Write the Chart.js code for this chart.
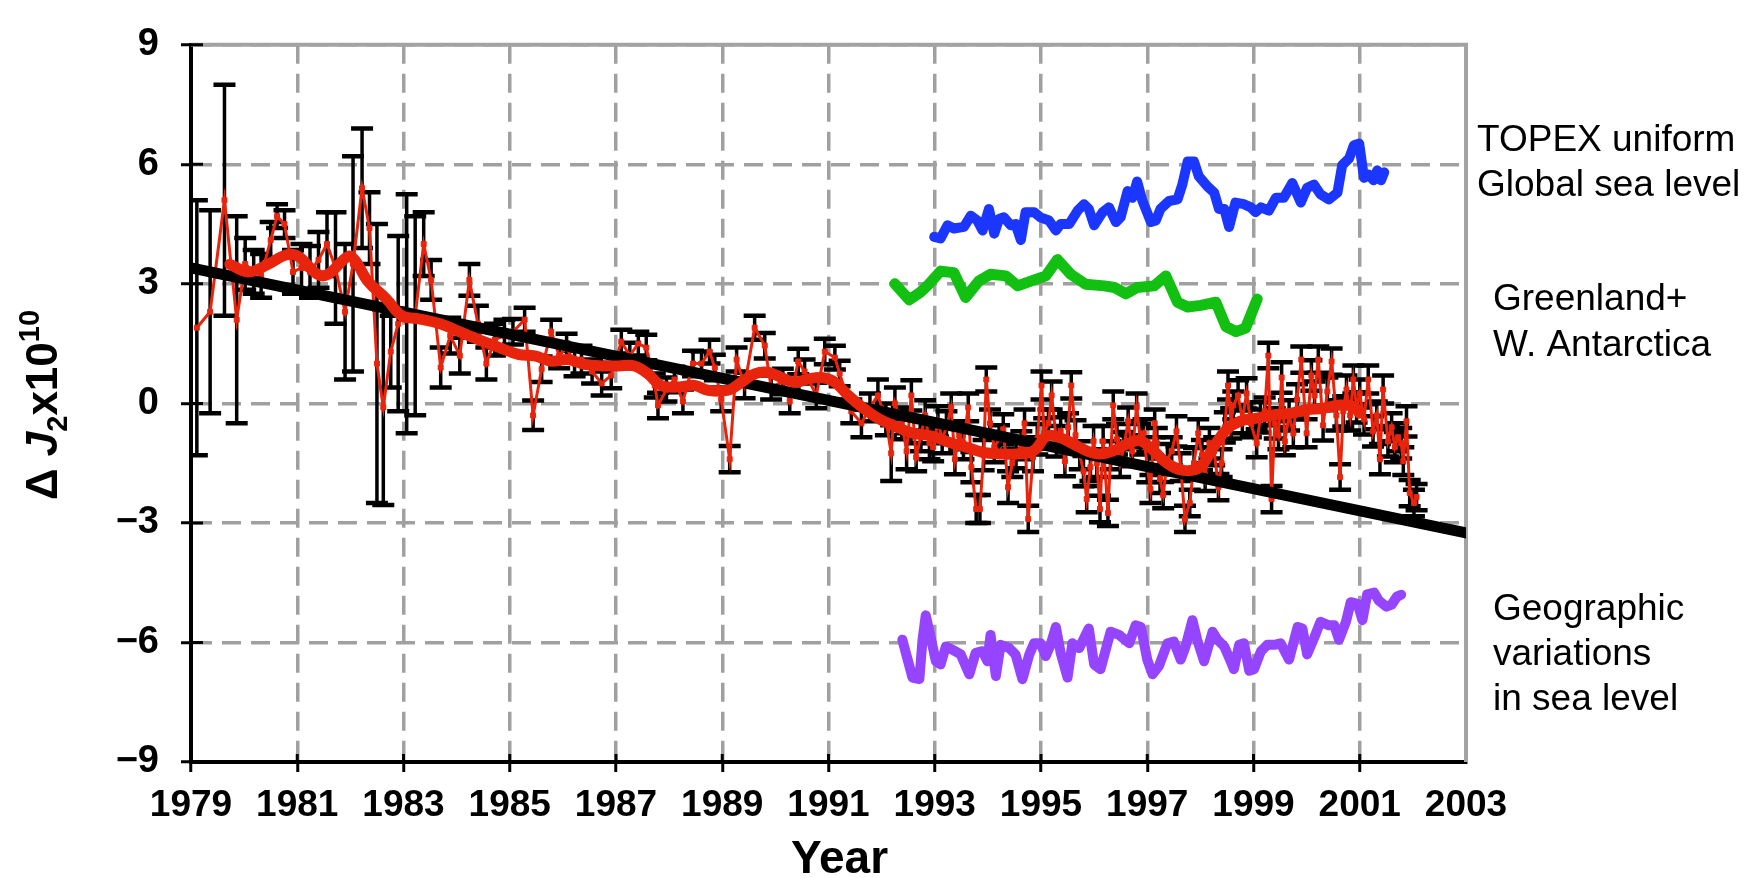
<!DOCTYPE html>
<html>
<head>
<meta charset="utf-8">
<script src="https://cdn.jsdelivr.net/npm/chart.js@4.4.0/dist/chart.umd.min.js"></script>
<style>
  html, body { margin: 0; padding: 0; background: #fff; }
  canvas { display: block; }
</style>
</head>
<body>
<canvas id="grafico" width="1764" height="878"></canvas>
<script>
const FONTE = "'Liberation Sans', Arial, Helvetica, sans-serif";

const anosTicks = [1979, 1981, 1983, 1985, 1987, 1989, 1991, 1993, 1995, 1997, 1999, 2001, 2003];
const valoresTicks = [-9, -6, -3, 0, 3, 6, 9];

// observacoes de J2 (pontos vermelhos com barras de erro)
const obsAnos = [
    1979.11, 1979.36, 1979.63, 1979.86, 1980.02, 1980.18, 1980.32, 1980.50, 1980.62, 1980.76, 1980.92,
    1981.08, 1981.24, 1981.40, 1981.56, 1981.72, 1981.90, 1982.05, 1982.22, 1982.36, 1982.50, 1982.62,
    1982.76, 1982.90, 1983.06, 1983.22, 1983.38, 1983.52, 1983.70, 1983.88, 1984.06, 1984.24, 1984.40,
    1984.56, 1984.72, 1984.90,
    1985.06, 1985.28, 1985.44, 1985.60, 1985.78, 1985.93,
    1986.07, 1986.22, 1986.35, 1986.55, 1986.73, 1986.91,
    1987.10, 1987.26, 1987.42, 1987.57, 1987.73, 1987.79, 1987.95,
    1988.10, 1988.26, 1988.45, 1988.61, 1988.76, 1988.86, 1988.98,
    1989.14, 1989.27, 1989.42, 1989.61, 1989.80, 1989.92,
    1990.14, 1990.27, 1990.43, 1990.55, 1990.77, 1990.93,
    1991.12, 1991.21, 1991.43, 1991.62, 1991.78, 1991.93,
    1992.08, 1992.18, 1992.25, 1992.38, 1992.47, 1992.56, 1992.65, 1992.74, 1992.82, 1992.90, 1992.97,
    1993.06, 1993.14, 1993.22, 1993.31, 1993.38, 1993.46, 1993.54, 1993.63, 1993.69, 1993.78, 1993.85, 1993.92, 1993.97,
    1994.04, 1994.12, 1994.21, 1994.29, 1994.38, 1994.46, 1994.53, 1994.63, 1994.69, 1994.76, 1994.85, 1994.93,
    1995.01, 1995.06, 1995.14, 1995.20, 1995.29, 1995.37, 1995.45, 1995.51, 1995.57, 1995.65, 1995.73, 1995.80, 1995.86, 1995.93, 1995.99,
    1996.05, 1996.11, 1996.17, 1996.26, 1996.31, 1996.36, 1996.43, 1996.49, 1996.56, 1996.64, 1996.72, 1996.80, 1996.87, 1996.93,
    1997.00, 1997.06, 1997.14, 1997.18, 1997.24, 1997.30, 1997.38, 1997.46, 1997.55, 1997.63, 1997.71, 1997.80, 1997.88, 1997.96,
    1998.03, 1998.09, 1998.17, 1998.26, 1998.34, 1998.40, 1998.46, 1998.52, 1998.58, 1998.62, 1998.71, 1998.79, 1998.87, 1998.95,
    1999.06, 1999.13, 1999.21, 1999.28, 1999.34, 1999.40, 1999.47, 1999.53, 1999.59, 1999.67, 1999.75, 1999.82, 1999.90,
    2000.00, 2000.09, 2000.15, 2000.22, 2000.31, 2000.39, 2000.47, 2000.56, 2000.63, 2000.69, 2000.75, 2000.82, 2000.88, 2000.94,
    2001.00, 2001.08, 2001.16, 2001.25, 2001.32, 2001.38, 2001.44, 2001.53, 2001.60, 2001.66, 2001.72, 2001.78, 2001.82, 2001.88, 2001.94,
    2002.02, 2002.07
];
const obsValores = [
    1.9, 2.3, 5.1, 2.1, 3.5, 3.3, 3.2, 4.1, 4.7, 4.5, 3.3,
    3.4, 3.3, 3.6, 4.0, 3.4, 2.3, 3.5, 5.4, 4.4, 1.0, -0.1,
    1.3, 2.0, 2.25, 2.2, 4.0, 3.1, 0.9, 1.7, 1.2, 3.1, 2.0,
    1.0, 1.6, 1.7,
    1.8, 2.1, -0.3, 0.86, 1.8, 1.2,
    1.4, 1.0, 1.1, 0.8, 0.5, 0.7,
    1.55, 1.2, 1.5, 1.4, 0.45, -0.05, 0.35,
    0.6, 0.05, 1.0, 1.0, 1.3, 0.9, 0.1,
    -1.4, 1.1, 0.45, 1.9, 1.45, 0.4,
    0.55, 0.05, 1.05, 0.8, 0.2, 1.3,
    1.15, 0.75, -0.2, -0.5, -0.1, 0.2,
    -0.4, -1.25, 0.0, -0.5, -1.2, 0.2, -1.35, -0.8, -0.3, -1.0, -1.1,
    -0.45, -0.9, -0.6, -0.1, -1.4, -0.8, -1.0, -0.1, -1.6, -2.65, -2.65, -1.3, 0.6,
    -0.5, -1.1, -0.9, -0.65, -2.1, -1.5, -1.25, -1.05, -0.5, -2.9, -1.35, -0.9,
    0.45, -0.75, -0.5, 0.2, -0.95, -0.7, -1.45, -0.6, 0.45, -0.8, -1.3, -1.7, -2.4, -1.6, -0.95,
    -1.5, -2.65, -0.95, -2.75, -1.3, -0.05, -0.9, -1.5, -1.1, -0.45, -1.2, -0.1, -0.9, -0.75,
    -1.6, -2.15, -0.5, -1.0, -1.9, -2.3, -1.4, -1.2, -0.7, -1.6, -2.9, -2.5, -1.5, -0.75,
    -1.3, -1.85, -1.0, -1.2, -2.1, -1.5, -0.6, 0.45, -0.5, -0.05, 0.2, -0.4, 0.25, -0.5,
    -1.0, -0.35, -0.2, 1.2, -2.4, -0.5, -0.8, 0.65, -0.95, -0.3, -0.75, 0.1, 1.1,
    -0.75, 0.7, 0.2, 1.1, -0.55, 0.3, 1.05, -0.3, -1.85, -0.2, 0.35, -0.3, 0.6, -0.1,
    0.25, -0.4, 0.6, -0.7, -0.3, -1.4, 0.35, -0.95, -0.6, -1.1, -0.85, -1.0, -1.45, -0.45, -2.25,
    -2.5, -2.35
];
const obsErros = [
    3.2, 2.55, 2.9, 2.6, 0.65, 0.55, 0.55, 0.45, 0.3, 0.35, 0.55,
    0.6, 0.65, 0.7, 0.8, 1.4, 1.7, 2.7, 1.5, 0.9, 3.5, 2.45,
    0.9, 2.2, 3.0, 2.5, 0.8, 0.5, 0.5, 0.45, 0.45, 0.4, 0.45,
    0.4, 0.4, 0.4,
    0.32, 0.3, 0.37, 0.32, 0.3, 0.32,
    0.35, 0.32, 0.35, 0.3, 0.3, 0.32,
    0.3, 0.32, 0.3, 0.32, 0.3, 0.32, 0.3,
    0.32, 0.3, 0.32, 0.3, 0.3, 0.32, 0.3,
    0.33, 0.3, 0.32, 0.3, 0.32, 0.3,
    0.32, 0.3, 0.32, 0.3, 0.32, 0.32,
    0.3, 0.32, 0.3, 0.35, 0.35, 0.4,
    0.4, 0.7, 0.4, 0.4, 0.45, 0.38, 0.35, 0.4, 0.38, 0.4, 0.35,
    0.38, 0.35, 0.4, 0.35, 0.38, 0.35, 0.4, 0.35, 0.38, 0.35, 0.35, 0.38, 0.3,
    0.35, 0.38, 0.35, 0.38, 0.4, 0.35, 0.38, 0.35, 0.35, 0.33, 0.35, 0.38,
    0.35, 0.38, 0.35, 0.35, 0.38, 0.35, 0.38, 0.35, 0.33, 0.38, 0.35, 0.38, 0.33, 0.35, 0.38,
    0.35, 0.33, 0.38, 0.33, 0.35, 0.35, 0.38, 0.35, 0.38, 0.35, 0.38, 0.35, 0.38, 0.35,
    0.38, 0.35, 0.35, 0.38, 0.35, 0.33, 0.38, 0.35, 0.38, 0.35, 0.33, 0.33, 0.38, 0.35,
    0.38, 0.35, 0.38, 0.35, 0.33, 0.35, 0.38, 0.35, 0.38, 0.35, 0.38, 0.35, 0.38, 0.35,
    0.35, 0.38, 0.35, 0.32, 0.33, 0.38, 0.35, 0.38, 0.35, 0.38, 0.35, 0.38, 0.33,
    0.35, 0.38, 0.35, 0.33, 0.38, 0.35, 0.33, 0.38, 0.32, 0.38, 0.35, 0.38, 0.35, 0.38,
    0.35, 0.38, 0.35, 0.38, 0.35, 0.38, 0.35, 0.38, 0.35, 0.38, 0.35, 0.38, 0.35, 0.38, 0.33,
    0.33, 0.33
];

// media movel (linha vermelha grossa)
const mediaAnos = [
    1979.73, 1980.09, 1980.45, 1980.80, 1981.02, 1981.38, 1981.58, 1981.96, 1982.10, 1982.32,
    1982.68, 1982.97, 1983.26, 1983.69, 1984.05, 1984.41, 1984.77, 1985.16, 1985.47, 1985.78,
    1986.10, 1986.41, 1986.73, 1987.04, 1987.35, 1987.60, 1987.85, 1988.17, 1988.48, 1988.73,
    1989.11, 1989.36, 1989.61, 1989.86, 1990.11, 1990.36, 1990.61, 1990.87, 1991.12, 1991.37,
    1991.62, 1991.93, 1992.25, 1992.56, 1992.94, 1993.28, 1993.60, 1993.91, 1994.23, 1994.54,
    1994.86, 1995.11, 1995.36, 1995.61, 1995.86, 1996.11, 1996.36, 1996.62, 1996.87, 1997.12,
    1997.37, 1997.68, 1997.99, 1998.24, 1998.49, 1998.74, 1999.06, 1999.37, 1999.69, 2000.00,
    2000.32, 2000.63, 2000.88, 2001.00
];
const mediaValores = [
    3.49, 3.3, 3.49, 3.73, 3.69, 3.24, 3.24, 3.69, 3.57, 3.08,
    2.62, 2.2, 2.13, 2.0, 1.8, 1.6, 1.42, 1.23, 1.19, 1.06,
    1.1, 0.98, 0.94, 0.94, 0.94, 0.74, 0.45, 0.41, 0.45, 0.33,
    0.33, 0.53, 0.74, 0.78, 0.65, 0.53, 0.61, 0.65, 0.53, 0.2,
    -0.08, -0.37, -0.57, -0.74, -0.82, -0.98, -1.1, -1.23, -1.27, -1.27,
    -1.19, -0.82, -0.86, -1.02, -1.19, -1.27, -1.19, -1.02, -0.94, -1.19,
    -1.5, -1.68, -1.6, -1.11, -0.66, -0.45, -0.37, -0.29, -0.25, -0.16,
    -0.12, -0.04, -0.08, -0.25
];

// tendencia linear
const tendenciaAnos = [1979, 2003];
const tendenciaValores = [3.4, -3.25];

// TOPEX nivel do mar global uniforme
const topexAnos = [
    1992.99, 1993.11, 1993.24, 1993.36, 1993.55, 1993.68, 1993.80, 1993.90, 1994.02, 1994.12,
    1994.21, 1994.30, 1994.43, 1994.52, 1994.62, 1994.71, 1994.87, 1994.99, 1995.15, 1995.28,
    1995.37, 1995.53, 1995.69, 1995.81, 1995.90, 1996.00, 1996.16, 1996.28, 1996.41, 1996.50,
    1996.63, 1996.72, 1996.81, 1996.91, 1997.07, 1997.16, 1997.25, 1997.41, 1997.57, 1997.66,
    1997.76, 1997.88, 1997.97, 1998.13, 1998.26, 1998.35, 1998.45, 1998.54, 1998.66, 1998.82,
    1998.95, 1999.04, 1999.14, 1999.29, 1999.42, 1999.57, 1999.73, 1999.89, 2000.01, 2000.14,
    2000.26, 2000.42, 2000.58, 2000.67, 2000.80, 2000.89, 2000.99, 2001.08, 2001.17,
    2001.26, 2001.33, 2001.40, 2001.46
];
const topexValores = [
    4.18, 4.14, 4.47, 4.39, 4.43, 4.71, 4.59, 4.34, 4.88, 4.26,
    4.63, 4.67, 4.47, 4.5, 4.1, 4.8, 4.8, 4.67, 4.59, 4.34,
    4.5, 4.5, 4.84, 5.0, 4.88, 4.47, 4.8, 4.92, 4.55, 4.67,
    5.33, 5.16, 5.57, 5.08, 4.55, 4.59, 4.88, 5.08, 5.12, 5.49,
    6.07, 6.07, 5.7, 5.45, 5.29, 4.88, 4.88, 4.43, 5.04, 5.0,
    4.92, 4.8, 4.92, 4.84, 5.16, 5.16, 5.53, 5.04, 5.41, 5.49,
    5.25, 5.12, 5.29, 5.98, 6.15, 6.48, 6.52, 5.66, 5.74,
    5.6, 5.85, 5.6, 5.8
];

// Groenlandia + Antartica Ocidental
const geloAnos = [
    1992.25, 1992.52, 1992.74, 1992.86, 1993.11, 1993.36, 1993.58, 1993.83, 1994.05, 1994.34,
    1994.56, 1994.81, 1995.09, 1995.31, 1995.56, 1995.84, 1996.19, 1996.38, 1996.60, 1996.81,
    1997.13, 1997.35, 1997.57, 1997.76, 1998.01, 1998.29, 1998.48, 1998.67, 1998.85, 1999.07
];
const geloValores = [
    3.0, 2.6, 2.8, 2.95, 3.32, 3.28, 2.66, 3.07, 3.24, 3.2,
    2.95, 3.07, 3.2, 3.61, 3.24, 2.99, 2.95, 2.91, 2.75, 2.91,
    2.95, 3.2, 2.54, 2.42, 2.46, 2.54, 1.93, 1.8, 1.89, 2.62
];

// variacoes geograficas do nivel do mar
const geoAnos = [
    1992.39, 1992.49, 1992.58, 1992.71, 1992.77, 1992.83, 1992.92, 1993.02, 1993.11, 1993.21,
    1993.33, 1993.49, 1993.65, 1993.77, 1993.90, 1993.99, 1994.05, 1994.15, 1994.24, 1994.40,
    1994.52, 1994.65, 1994.78, 1994.87, 1994.99, 1995.09, 1995.18, 1995.28, 1995.37, 1995.50,
    1995.59, 1995.72, 1995.90, 1996.00, 1996.12, 1996.31, 1996.47, 1996.66, 1996.78, 1996.88,
    1997.00, 1997.10, 1997.22, 1997.38, 1997.50, 1997.63, 1997.72, 1997.85, 1997.94, 1998.07,
    1998.23, 1998.32, 1998.45, 1998.57, 1998.63, 1998.73, 1998.82, 1998.92, 1999.01, 1999.14,
    1999.26, 1999.39, 1999.51, 1999.67, 1999.83, 1999.92, 2000.01, 2000.14, 2000.26, 2000.42,
    2000.52, 2000.61, 2000.74, 2000.83, 2000.96, 2001.05, 2001.14, 2001.27, 2001.36,
    2001.50, 2001.60, 2001.70, 2001.78
];
const geoValores = [
    -5.93, -6.43, -6.88, -6.92, -5.93, -5.32, -5.85, -6.47, -6.55, -6.1,
    -6.18, -6.3, -6.8, -6.26, -6.22, -6.47, -5.81, -6.84, -6.06, -6.14,
    -6.3, -6.92, -6.3, -6.02, -6.02, -6.34, -6.06, -5.61, -6.26, -6.88,
    -6.02, -6.14, -5.65, -6.55, -6.67, -5.73, -5.81, -6.02, -5.57, -5.61,
    -6.43, -6.8, -6.59, -6.02, -5.98, -6.43, -6.1, -5.44, -5.93, -6.47,
    -5.73, -5.93, -6.1, -6.47, -6.67, -6.06, -6.02, -6.71, -6.67, -6.22,
    -6.06, -6.06, -6.02, -6.43, -5.61, -5.65, -6.3, -5.89, -5.48, -5.57,
    -5.57, -5.93, -5.48, -4.99, -5.03, -5.44, -4.79, -4.75, -4.95,
    -5.1, -5.05, -4.85, -4.8
];

const anotacoes = [
    ["TOPEX uniform", 11, 141],
    ["Global sea level", 11, 186],
    ["Greenland+", 27, 300],
    ["W. Antarctica", 27, 346],
    ["Geographic", 27, 610],
    ["variations", 27, 655],
    ["in sea level", 27, 700]
];

function pontos(anos, valores) {
    return anos.map((a, i) => ({ x: a, y: valores[i] }));
}

function barrasErro(anos, valores, erros) {
    const dados = [];
    anos.forEach((a, i) => {
        dados.push({ x: a, y: valores[i] + erros[i] });
        dados.push({ x: a, y: valores[i] - erros[i] });
        dados.push({ x: a, y: null });
    });
    return dados;
}

function linhaGrossa(dados, cor, largura, ordem, tensao) {
    return {
        data: dados,
        borderColor: cor,
        borderWidth: largura,
        pointRadius: 0,
        tension: tensao,
        borderJoinStyle: "round",
        borderCapStyle: "round",
        order: ordem
    };
}

const bordasEMarcas = {
    id: "bordasEMarcas",
    beforeDatasetsDraw(chart) {
        const { ctx, chartArea: a, scales } = chart;
        ctx.save();
        ctx.strokeStyle = "#a3a3a3";
        ctx.lineWidth = 4;
        ctx.beginPath();
        ctx.moveTo(a.left, a.top);
        ctx.lineTo(a.right, a.top);
        ctx.lineTo(a.right, a.bottom);
        ctx.stroke();

        ctx.strokeStyle = "#000";
        ctx.lineWidth = 3;
        ctx.beginPath();
        scales.x.ticks.forEach(t => {
            if (t.value === 2003) return;
            const px = scales.x.getPixelForValue(t.value);
            ctx.moveTo(px, a.bottom);
            ctx.lineTo(px, a.bottom - 8);
        });
        scales.y.ticks.forEach(t => {
            const py = scales.y.getPixelForValue(t.value);
            ctx.moveTo(a.left, py);
            ctx.lineTo(a.left + 12, py);
        });
        ctx.stroke();
        ctx.restore();
    }
};

const textos = {
    id: "textos",
    afterDraw(chart) {
        const { ctx, chartArea: a } = chart;
        ctx.save();
        ctx.fillStyle = "#000";

        // titulo do eixo y, com indice e expoente
        ctx.save();
        ctx.translate(42, 405);
        ctx.rotate(-Math.PI / 2);
        ctx.textBaseline = "alphabetic";
        ctx.textAlign = "left";
        const partes = [
            ["\u0394 ", "bold 44px " + FONTE, 0],
            ["J", "italic bold 44px " + FONTE, 0],
            ["2", "bold 29px " + FONTE, 10],
            ["x10", "bold 44px " + FONTE, 0],
            ["10", "bold 29px " + FONTE, -18]
        ];
        let total = 0;
        partes.forEach(([t, f]) => { ctx.font = f; total += ctx.measureText(t).width; });
        let cx = -total / 2;
        partes.forEach(([t, f, dy]) => {
            ctx.font = f;
            ctx.fillText(t, cx, 15 + dy);
            cx += ctx.measureText(t).width;
        });
        ctx.restore();

        ctx.font = "bold 46px " + FONTE;
        ctx.textAlign = "center";
        ctx.textBaseline = "alphabetic";
        ctx.fillText("Year", (a.left + a.right) / 2 + 11, 873);

        ctx.font = "37px " + FONTE;
        ctx.textAlign = "left";
        ctx.textBaseline = "middle";
        anotacoes.forEach(([txt, dx, y]) => ctx.fillText(txt, a.right + dx, y));
        ctx.restore();
    }
};

function criarGrafico() {
    new Chart(document.getElementById("grafico"), {
        type: "line",
        data: {
            datasets: [
                linhaGrossa(pontos(mediaAnos, mediaValores), "#e8250c", 11, 1, 0.4),
                linhaGrossa(pontos(tendenciaAnos, tendenciaValores), "#000", 11, 2, 0),
                {
                    data: pontos(obsAnos, obsValores),
                    borderColor: "#e8250c",
                    borderWidth: 3,
                    pointStyle: "rect",
                    pointRadius: 3.5,
                    pointBackgroundColor: "#e8250c",
                    pointBorderColor: "#e8250c",
                    pointBorderWidth: 1,
                    tension: 0,
                    order: 3
                },
                {
                    data: barrasErro(obsAnos, obsValores, obsErros),
                    borderColor: "#000",
                    borderWidth: 3.5,
                    pointStyle: "line",
                    pointRadius: 11,
                    pointBorderColor: "#000",
                    pointBorderWidth: 4.5,
                    spanGaps: false,
                    tension: 0,
                    order: 4
                },
                linhaGrossa(pontos(topexAnos, topexValores), "#1b36ff", 10, 5, 0),
                linhaGrossa(pontos(geloAnos, geloValores), "#12c012", 11, 5, 0),
                linhaGrossa(pontos(geoAnos, geoValores), "#9544ff", 10, 5, 0)
            ]
        },
        options: {
            responsive: false,
            animation: false,
            devicePixelRatio: 1,
            layout: { padding: { top: 31, right: 298, bottom: 0, left: 0 } },
            plugins: { legend: { display: false }, tooltip: { enabled: false } },
            scales: {
                x: {
                    type: "linear",
                    min: 1979,
                    max: 2003,
                    afterBuildTicks: escala => { escala.ticks = anosTicks.map(v => ({ value: v })); },
                    afterFit: escala => { escala.height = 116; },
                    ticks: {
                        color: "#000",
                        padding: 12,
                        maxRotation: 0,
                        autoSkip: false,
                        font: { family: FONTE, size: 37, weight: "bold" },
                        callback: v => String(v)
                    },
                    grid: {
                        color: "#a0a0a0",
                        lineWidth: 3.5,
                        tickLength: 10,
                        tickWidth: 3,
                        tickColor: c => (c.tick && c.tick.value === 2003 ? "rgba(0,0,0,0)" : "#000")
                    },
                    border: { display: true, color: "#000", width: 4, dash: [19, 10] }
                },
                y: {
                    min: -9,
                    max: 9,
                    afterBuildTicks: escala => { escala.ticks = valoresTicks.map(v => ({ value: v })); },
                    afterFit: escala => { escala.width = 191; },
                    ticks: {
                        color: "#000",
                        padding: 22,
                        font: { family: FONTE, size: 38, weight: "bold" },
                        callback: v => (v < 0 ? "\u2212" + (-v) : String(v))
                    },
                    grid: {
                        color: "#a0a0a0",
                        lineWidth: 3.5,
                        tickLength: 10,
                        tickWidth: 3,
                        tickColor: "#000"
                    },
                    border: { display: true, color: "#000", width: 4, dash: [19, 10] }
                }
            }
        },
        plugins: [bordasEMarcas, textos]
    });
}

document.addEventListener("DOMContentLoaded", () => {
    criarGrafico();
});
</script>
</body>
</html>
